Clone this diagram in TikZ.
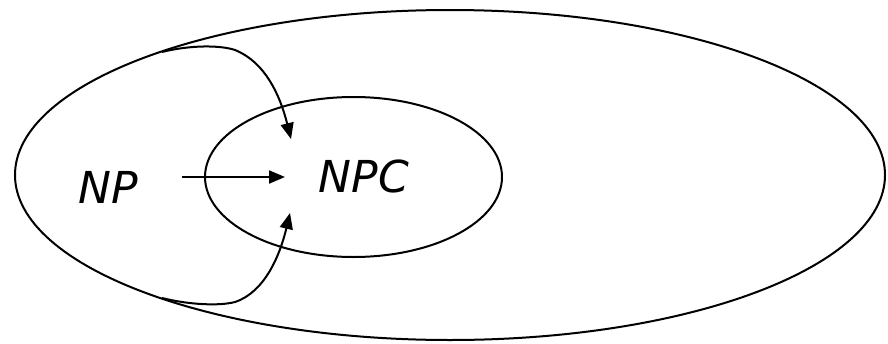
\documentclass[tikz,border=0pt]{standalone}
\usepackage{fontspec}
\setmainfont{DejaVu Sans}
\usetikzlibrary{arrows.meta}
\begin{document}
\begin{tikzpicture}[x=1pt,y=-1pt,
  set/.style={draw=black,line width=2pt},
  link/.style={line width=2pt,-{Triangle[length=16pt,width=13pt]}},
  lbl/.style={font=\fontsize{44}{44}\selectfont\itshape,inner sep=0pt}]
\useasboundingbox[fill=white] (0,0) rectangle (888,343);
% outer and inner sets
\draw[set] (450,175) ellipse [x radius=435, y radius=165];
\draw[set] (353.5,177) ellipse [x radius=148.5, y radius=80];
% labels
\node[lbl] (np) at (108,187) {NP};
\node[lbl] (npc) at (364,176) {NPC};
% reduction arrows
\coordinate (top) at (162,52);
\coordinate (bot) at (162,298);
\coordinate (ttip) at (291,139);
\coordinate (btip) at (290,213);
\coordinate (ms) at (182,177);
\draw[link] (top) .. controls (190,45) and (220,45) .. (235,50)
  .. controls (265,62) and (280,95) .. (ttip);
\draw[link] (bot) .. controls (190,305) and (220,306) .. (235,302)
  .. controls (265,292) and (280,255) .. (btip);
\draw[link] (ms) -- (285,177);
\end{tikzpicture}
\end{document}
